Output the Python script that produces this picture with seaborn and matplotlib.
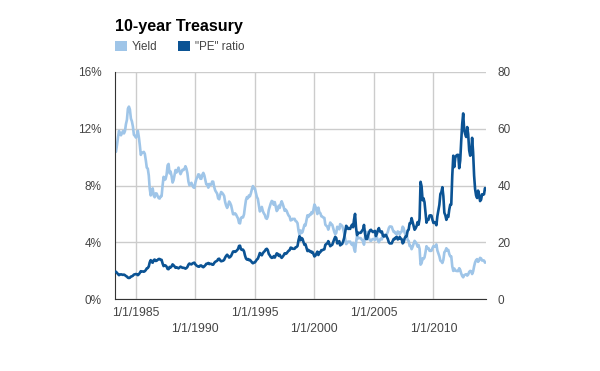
import pandas as pd
import seaborn as sns
import matplotlib.pyplot as plt
from matplotlib.patches import Patch

# monthly values, Apr 1983 .. Jun 2014
yield_pct = [
    10.40, 10.38, 10.85, 11.38, 11.85, 11.65, 11.54, 11.69, 11.83,
    11.67, 11.84, 12.32, 12.63, 13.41, 13.56, 13.36, 12.72, 12.52, 12.16, 11.57, 11.50,
    11.38, 11.51, 11.86, 11.43, 10.85, 10.16, 10.31, 10.33, 10.37, 10.24, 9.78, 9.26,
    9.19, 8.70, 7.78, 7.30, 7.71, 7.80, 7.30, 7.17, 7.45, 7.43, 7.25, 7.11,
    7.08, 7.25, 7.25, 8.02, 8.61, 8.40, 8.45, 8.76, 9.42, 9.52, 8.86, 8.99,
    8.67, 8.21, 8.37, 8.72, 9.09, 8.92, 9.06, 9.26, 8.98, 8.80, 8.96, 9.11,
    9.09, 9.17, 9.36, 9.18, 8.86, 8.28, 8.02, 8.11, 8.19, 8.01, 7.87, 7.84,
    8.21, 8.47, 8.59, 8.79, 8.76, 8.48, 8.47, 8.75, 8.89, 8.72, 8.39, 8.08,
    8.09, 7.85, 8.11, 8.04, 8.07, 8.28, 8.27, 7.90, 7.65, 7.53, 7.42, 7.09,
    7.03, 7.34, 7.54, 7.48, 7.39, 7.26, 6.84, 6.59, 6.42, 6.59, 6.87, 6.77,
    6.60, 6.26, 5.98, 5.97, 6.04, 5.96, 5.81, 5.68, 5.36, 5.33, 5.72, 5.77,
    5.75, 5.97, 6.48, 6.97, 7.18, 7.10, 7.30, 7.24, 7.46, 7.74, 7.96, 7.81,
    7.78, 7.47, 7.20, 7.06, 6.63, 6.17, 6.28, 6.49, 6.20, 6.04, 5.93, 5.71,
    5.65, 5.81, 6.27, 6.51, 6.74, 6.91, 6.87, 6.64, 6.83, 6.53, 6.20, 6.30,
    6.58, 6.42, 6.69, 6.89, 6.71, 6.49, 6.22, 6.30, 6.21, 6.03, 5.88, 5.81,
    5.54, 5.57, 5.65, 5.64, 5.65, 5.50, 5.46, 5.34, 4.81, 4.53, 4.83, 4.65,
    4.72, 5.00, 5.23, 5.18, 5.54, 5.90, 5.79, 5.94, 5.92, 6.11, 6.03, 6.28,
    6.66, 6.52, 6.26, 5.99, 6.44, 6.10, 6.05, 5.83, 5.80, 5.74, 5.72, 5.24,
    5.16, 5.10, 4.89, 5.14, 5.39, 5.28, 5.24, 4.97, 4.73, 4.57, 4.65, 5.09,
    5.04, 4.91, 5.28, 5.21, 5.16, 4.93, 4.65, 4.26, 3.87, 3.94, 4.05, 4.03,
    4.05, 3.90, 3.81, 3.96, 3.57, 3.33, 3.98, 4.45, 4.27, 4.29, 4.30, 4.27,
    4.15, 4.08, 3.83, 4.35, 4.72, 4.73, 4.50, 4.28, 4.13, 4.10, 4.19, 4.23,
    4.22, 4.17, 4.50, 4.34, 4.14, 4.00, 4.18, 4.26, 4.20, 4.46, 4.54, 4.47,
    4.42, 4.57, 4.72, 4.99, 5.11, 5.11, 5.09, 4.88, 4.72, 4.73, 4.60, 4.56,
    4.76, 4.72, 4.56, 4.69, 4.75, 5.10, 5.00, 4.67, 4.52, 4.53, 4.15, 4.10,
    3.74, 3.74, 3.51, 3.68, 3.88, 4.10, 4.01, 3.89, 3.69, 3.81, 3.53, 2.42,
    2.52, 2.87, 2.82, 2.93, 3.29, 3.72, 3.56, 3.59, 3.40, 3.39, 3.40, 3.59,
    3.73, 3.69, 3.73, 3.85, 3.42, 3.20, 3.01, 2.70, 2.65, 2.54, 2.76, 3.29,
    3.39, 3.58, 3.41, 3.46, 3.17, 3.00, 3.00, 2.30, 1.98, 2.15, 2.01, 1.98,
    1.97, 1.97, 2.17, 2.05, 1.80, 1.62, 1.53, 1.68, 1.72, 1.75, 1.65, 1.72,
    1.91, 1.98, 1.96, 1.76, 1.93, 2.30, 2.58, 2.74, 2.81, 2.62, 2.72, 2.90,
    2.86, 2.71, 2.72, 2.71, 2.56, 2.60,
]

pe_ratio = [
    9.6, 9.6, 9.2, 8.8, 8.4, 8.6, 8.7, 8.6, 8.5,
    8.6, 8.4, 8.1, 7.9, 7.5, 7.4, 7.5, 7.9, 8.0, 8.2, 8.6, 8.7,
    8.8, 8.7, 8.4, 8.7, 9.2, 9.8, 9.7, 9.7, 9.6, 9.8, 10.2, 10.8,
    10.9, 11.5, 12.9, 13.7, 13.0, 12.8, 13.7, 13.9, 13.4, 13.5, 13.8, 14.1,
    14.1, 13.8, 13.8, 12.5, 11.6, 11.9, 11.8, 11.4, 10.6, 10.5, 11.3, 11.1,
    11.5, 12.2, 11.9, 11.5, 11.0, 11.2, 11.0, 10.8, 11.1, 11.4, 11.2, 11.0,
    11.0, 10.9, 10.7, 10.9, 11.3, 12.1, 12.5, 12.3, 12.2, 12.5, 12.7, 12.8,
    12.2, 11.8, 11.6, 11.4, 11.4, 11.8, 11.8, 11.4, 11.2, 11.5, 11.9, 12.4,
    12.4, 12.7, 12.3, 12.4, 12.4, 12.1, 12.1, 12.7, 13.1, 13.3, 13.5, 14.1,
    14.2, 13.6, 13.3, 13.4, 13.5, 13.8, 14.6, 15.2, 15.6, 15.2, 14.6, 14.8,
    15.2, 16.0, 16.7, 16.8, 16.6, 16.8, 17.2, 17.6, 18.7, 18.8, 17.5, 17.3,
    17.4, 16.8, 15.4, 14.3, 13.9, 14.1, 13.7, 13.8, 13.4, 12.9, 12.6, 12.8,
    12.9, 13.4, 13.9, 14.2, 15.1, 16.2, 15.9, 15.4, 16.1, 16.6, 16.9, 17.5,
    17.7, 17.2, 15.9, 15.4, 14.8, 14.5, 14.6, 15.1, 14.6, 15.3, 16.1, 15.9,
    15.2, 15.6, 14.9, 14.5, 14.9, 15.4, 16.1, 15.9, 16.1, 16.6, 17.0, 17.2,
    18.1, 18.0, 17.7, 17.7, 17.7, 18.2, 18.3, 18.7, 20.8, 22.1, 20.7, 21.5,
    21.2, 20.0, 19.1, 19.3, 18.1, 16.9, 17.3, 16.8, 16.9, 16.4, 16.6, 15.9,
    15.0, 15.3, 16.0, 16.7, 15.5, 16.4, 16.5, 17.2, 17.2, 17.4, 17.5, 19.1,
    19.4, 19.6, 20.4, 19.5, 18.6, 18.9, 19.1, 20.1, 21.1, 21.9, 21.5, 19.6,
    19.8, 20.4, 18.9, 19.2, 19.4, 20.3, 21.5, 23.5, 25.8, 25.4, 24.7, 24.8,
    24.7, 25.6, 26.2, 25.3, 28.0, 30.0, 25.1, 22.5, 23.4, 23.3, 23.3, 23.4,
    24.1, 24.5, 26.1, 23.0, 21.2, 21.1, 22.2, 23.4, 24.2, 24.4, 23.9, 23.6,
    23.7, 24.0, 22.2, 23.0, 24.2, 25.0, 23.9, 23.5, 23.8, 22.4, 22.0, 22.4,
    22.6, 21.9, 21.2, 20.0, 19.6, 19.6, 19.6, 20.5, 21.2, 21.1, 21.7, 21.9,
    21.0, 21.2, 21.9, 21.3, 21.1, 19.6, 20.0, 21.4, 22.1, 22.1, 24.1, 24.4,
    26.7, 26.7, 28.5, 27.2, 25.8, 24.4, 24.9, 25.7, 27.1, 26.2, 28.3, 41.3,
    39.7, 34.8, 35.5, 34.1, 30.4, 26.9, 28.1, 27.9, 29.4, 29.5, 29.4, 27.9,
    26.8, 27.1, 26.8, 26.0, 29.2, 31.3, 33.2, 37.0, 37.7, 39.4, 36.2, 30.4,
    29.5, 27.9, 29.3, 28.9, 31.5, 33.3, 33.3, 43.5, 50.5, 46.5, 49.8, 50.5,
    50.8, 50.8, 46.1, 48.8, 55.6, 61.7, 65.4, 59.5, 58.1, 57.1, 60.6, 58.1,
    52.4, 50.5, 51.0, 56.8, 51.8, 43.5, 38.8, 36.5, 35.6, 38.2, 36.8, 34.5,
    35.0, 36.9, 36.8, 36.9, 39.1, 38.5,
]

start_month = '1983-04-01'
upper_years = [1985, 1995, 2005]
lower_years = [1990, 2000, 2010]
yield_ticks = [0, 4, 8, 12, 16]
pe_ticks = [0, 20, 40, 60, 80]

light = '#9fc5e8'
dark = '#0b5394'
grid_c = '#cccccc'
text_c = '#444444'

df = pd.DataFrame({
    'date': pd.date_range(start_month, periods=len(yield_pct), freq='MS'),
    'Yield': yield_pct,
    'PE': pe_ratio,
})

sns.set_style('white')
plt.rcParams['font.family'] = ['Liberation Sans', 'DejaVu Sans']

fig = plt.figure(figsize=(6, 3.71), dpi=100)
ax = fig.add_axes([115 / 600, 72 / 371, 371 / 600, 227 / 371])
ax.set_axisbelow(True)

sns.lineplot(data=df, x='date', y='Yield', ax=ax, color=light, linewidth=1.9)
ax2 = ax.twinx()
sns.lineplot(data=df, x='date', y='PE', ax=ax2, color=dark, linewidth=1.9)

ax.set_xlim(df['date'].iloc[0], df['date'].iloc[-1])
ax.set_ylim(0, 16)
ax2.set_ylim(0, 80)
ax.set_yticks(yield_ticks, labels=[f'{v}%' for v in yield_ticks])
ax2.set_yticks(pe_ticks, labels=[str(v) for v in pe_ticks])

ax.set_xticks([pd.Timestamp(f'{y}-01-01') for y in upper_years],
              labels=[f'1/1/{y}' for y in upper_years])
ax.set_xticks([pd.Timestamp(f'{y}-01-01') for y in lower_years],
              labels=[f'1/1/{y}' for y in lower_years], minor=True)

for a in (ax, ax2):
    a.set_xlabel('')
    a.set_ylabel('')
    for s in a.spines.values():
        s.set_visible(False)

ax.spines['left'].set_visible(True)
ax.spines['bottom'].set_visible(True)
ax.spines['left'].set_color('#333333')
ax.spines['bottom'].set_color('#333333')

ax.grid(True, axis='y', color=grid_c, linewidth=1)
ax.grid(True, axis='x', which='both', color=grid_c, linewidth=1)
ax2.grid(False)

ax.tick_params(axis='y', length=0, pad=9.5, labelsize=8.5, labelcolor=text_c)
ax2.tick_params(axis='y', length=0, pad=8.5, labelsize=8.5, labelcolor=text_c)
ax.tick_params(axis='x', which='major', length=0, pad=5.5, labelsize=8.7, labelcolor=text_c)
ax.tick_params(axis='x', which='minor', length=0, pad=17, labelsize=8.7, labelcolor=text_c)

fig.text(115 / 600, 1 - 31.5 / 371, '10-year Treasury', fontsize=11.6, fontweight='bold',
         color='black', va='baseline', ha='left')

handles = [Patch(facecolor=light, edgecolor='none'), Patch(facecolor=dark, edgecolor='none')]
ax.legend(handles, ['Yield', '"PE" ratio'], loc='center left', ncol=2,
          bbox_to_anchor=(115 / 600, 1 - 47 / 371), bbox_transform=fig.transFigure,
          frameon=False, fontsize=8.4, handlelength=1.0, handleheight=1.0,
          handletextpad=0.45, columnspacing=1.75, borderpad=0, borderaxespad=0,
          labelcolor=text_c)

fig.savefig('out.png', dpi=100)
